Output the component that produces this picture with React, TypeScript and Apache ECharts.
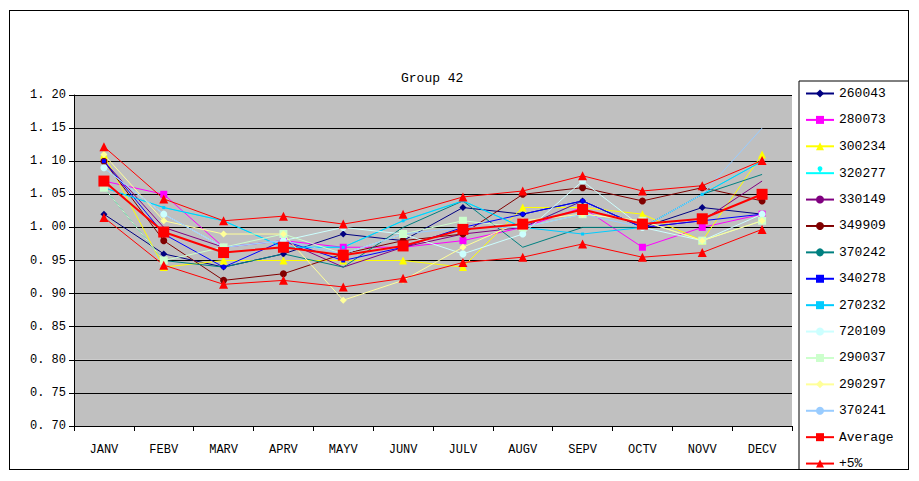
import { useEffect, useRef } from "react";
import * as echarts from "echarts";

const months = ["JANV", "FEBV", "MARV", "APRV", "MAYV", "JUNV", "JULV", "AUGV", "SEPV", "OCTV", "NOVV", "DECV"];

const s260043 = [1.02, 0.96, 0.94, 0.96, 0.99, 0.98, 1.03, 1.02, 1.04, 1.0, 1.03, 1.02];
const s280073 = [1.07, 1.05, 0.97, 0.98, 0.97, 0.97, 0.98, 1.0, 1.03, 0.97, 1.0, 1.02];
const s300234 = [1.11, 0.94, 0.95, 0.95, 0.95, 0.95, 0.94, 1.03, 1.03, 1.02, 0.98, 1.11];
const s320277 = [1.06, 1.03, 1.01, 0.97, 0.97, 1.01, 1.04, 1.0, 1.04, 1.0, 1.05, 1.1];
const s330149 = [1.1, 1.0, 0.97, 0.98, 0.94, 0.97, 0.99, 1.0, 1.04, 1.0, 1.01, 1.07];
const s349909 = [1.1, 0.98, 0.92, 0.93, 0.96, 0.98, 0.99, 1.05, 1.06, 1.04, 1.06, 1.04];
const s370242 = [1.06, 0.95, 0.94, 0.96, 0.94, 1.0, 1.04, 0.97, 1.0, 1.0, 1.05, 1.08];
const s340278 = [1.1, 0.99, 0.94, 0.98, 0.95, 0.97, 1.0, 1.02, 1.04, 1.0, 1.01, 1.02];
const s270232 = [1.06, 1.03, 1.01, 0.97, 0.97, 1.01, 1.04, 1.0, 0.99, 1.0, 1.05, 1.1];
const s720109 = [1.09, 1.02, 0.97, 0.98, 1.0, 0.99, 0.96, 0.99, 1.07, 1.0, 0.98, 1.02];
const s290037 = [1.06, 0.95, 0.97, 0.99, 0.96, 0.99, 1.01, 1.0, 1.02, 1.01, 0.98, 1.01];
const s290297 = [1.11, 1.01, 0.99, 0.99, 0.89, 0.92, 0.97, 1.01, 1.02, 1.01, 0.98, 1.01];
const s370241 = [1.09, 1.02, 0.97, 0.98, 0.96, 0.99, 1.0, 1.0, 1.02, 1.0, 1.05, 1.15];
const average = [1.07, 0.993, 0.962, 0.97, 0.958, 0.972, 0.997, 1.005, 1.027, 1.005, 1.013, 1.05];
const plus5 = [1.122, 1.043, 1.01, 1.017, 1.005, 1.02, 1.046, 1.055, 1.078, 1.055, 1.063, 1.101];
const minus5 = [1.015, 0.943, 0.914, 0.92, 0.91, 0.923, 0.947, 0.955, 0.975, 0.955, 0.962, 0.997];

const FONT = "'Liberation Mono', monospace";

function App() {
    const chartRef = useRef<HTMLDivElement | null>(null);

    useEffect(() => {
        if (!chartRef.current) return;
        const chart = echarts.init(chartRef.current, null, { renderer: "svg" });

        const line = (name: string, data: number[], color: string, symbol: string, size = 6, width = 1) => ({
            name, type: "line", data, symbol, symbolSize: size,
            lineStyle: { color, width }, itemStyle: { color },
        });

        chart.setOption({
            animation: false,
            textStyle: { fontFamily: FONT },
            title: { text: "Group 42", left: 386, top: 56, textStyle: { fontSize: 13, fontWeight: "normal", color: "#000", fontFamily: FONT } },
            grid: { left: 64, top: 84, width: 718, height: 331 },
            legend: {
                orient: "vertical", left: 789, top: 70, width: 108, height: 388,
                itemGap: 13.4, itemWidth: 28, itemHeight: 10,
                borderColor: "#000", borderWidth: 1, padding: [6, 4, 6, 6],
                textStyle: { fontSize: 13, color: "#000", fontFamily: FONT },
            },
            xAxis: {
                type: "category", data: months, boundaryGap: true,
                axisLine: { lineStyle: { color: "#000" } },
                axisTick: { show: true, lineStyle: { color: "#000" } },
                axisLabel: { color: "#000", fontSize: 12, margin: 18, fontFamily: FONT },
            },
            yAxis: {
                type: "value", min: 0.7, max: 1.2, interval: 0.05,
                axisLine: { show: true, lineStyle: { color: "#000" } },
                axisTick: { show: true, lineStyle: { color: "#000" } },
                axisLabel: { color: "#000", fontSize: 12, fontFamily: FONT, formatter: (v: number) => v.toFixed(2).replace(".", ". ") },
                splitLine: { lineStyle: { color: "#000" } },
                splitArea: { show: true, areaStyle: { color: ["#c0c0c0", "#c0c0c0"] } },
            },
            series: [
                line("260043", s260043, "#000080", "diamond", 7),
                line("280073", s280073, "#ff00ff", "rect", 7),
                line("300234", s300234, "#ffff00", "triangle", 8),
                line("320277", s320277, "#00ffff", "pin", 0),
                line("330149", s330149, "#800080", "circle", 0),
                line("349909", s349909, "#800000", "circle", 7),
                line("370242", s370242, "#008080", "none"),
                line("340278", s340278, "#0000ff", "rect", 4),
                line("270232", s270232, "#00ccff", "rect", 3),
                line("720109", s720109, "#ccffff", "circle", 7),
                line("290037", s290037, "#ccffcc", "rect", 8),
                line("290297", s290297, "#ffff99", "diamond", 7),
                line("370241", s370241, "#99ccff", "none"),
                line("Average", average, "#ff0000", "rect", 11, 2),
                line("+5%", plus5, "#ff0000", "triangle", 9),
                line("-5%", minus5, "#ff0000", "triangle", 9),
            ],
        });
        return () => chart.dispose();
    }, []);

    return (
        <div style={{ width: 900, height: 460, border: "1px solid #000", boxSizing: "border-box", background: "#fff", margin: "2px 0 0 1px" }}>
            <div ref={chartRef} style={{ width: 898, height: 458 }} />
        </div>
    );
}

export default App;
